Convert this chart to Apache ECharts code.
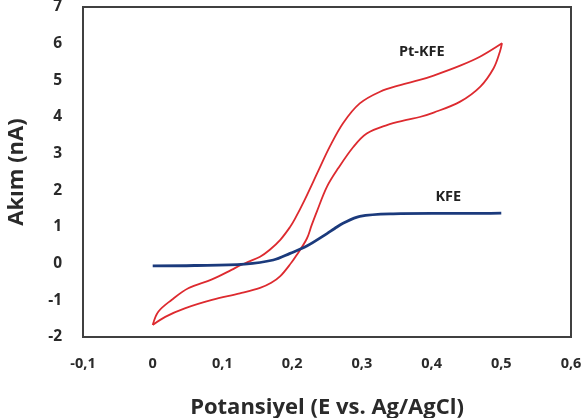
<!DOCTYPE html>
<html>
<head>
<meta charset="utf-8">
<script src="https://cdn.jsdelivr.net/npm/echarts@6/dist/echarts.min.js"></script>
<style>html,body{margin:0;padding:0;background:#fff}#c{width:582px;height:418px}</style>
</head>
<body>
<div id="c"></div>
<script>
// Pt-KFE cyclic voltammogram: upper branch (0 -> 0.5 V) then lower branch (0.5 -> 0 V)
const ptKfePotential = [0.000, 0.008, 0.027, 0.051, 0.085, 0.113, 0.125, 0.137, 0.154, 0.168, 0.183, 0.197, 0.204, 0.218, 0.238, 0.254, 0.273, 0.297, 0.326, 0.355, 0.383, 0.403, 0.441, 0.470, 0.501,
  0.498, 0.489, 0.470, 0.441, 0.403, 0.383, 0.364, 0.336, 0.307, 0.288, 0.266, 0.250, 0.235, 0.228, 0.221, 0.206, 0.199, 0.183, 0.170, 0.154, 0.125, 0.085, 0.046, 0.018, 0.000];
const ptKfeCurrent = [-1.67, -1.31, -0.99, -0.67, -0.43, -0.17, -0.05, 0.05, 0.19, 0.38, 0.65, 1.00, 1.22, 1.74, 2.55, 3.19, 3.83, 4.37, 4.69, 4.87, 5.01, 5.13, 5.40, 5.65, 6.01,
  5.78, 5.33, 4.83, 4.42, 4.12, 4.00, 3.92, 3.78, 3.55, 3.19, 2.60, 2.10, 1.40, 1.05, 0.68, 0.22, 0.03, -0.34, -0.52, -0.66, -0.81, -0.99, -1.22, -1.45, -1.67];
// KFE curve
const kfePotential = [0.000, 0.060, 0.132, 0.173, 0.197, 0.221, 0.250, 0.261, 0.273, 0.297, 0.345, 0.400, 0.450, 0.500];
const kfeCurrent = [-0.06, -0.05, -0.01, 0.10, 0.28, 0.48, 0.82, 0.96, 1.10, 1.29, 1.36, 1.37, 1.37, 1.38];
// Axis ticks
const xTicks = { min: -0.1, max: 0.6, step: 0.1 };
const yTicks = { min: -2, max: 7, step: 1 };
// Curve labels [x, y, text]
const curveLabels = [[0.386, 5.77, 'Pt-KFE'], [0.424, 1.82, 'KFE']];

const zip = (a, b) => a.map((v, i) => [v, b[i]]);
const font = '"Open Sans", "Liberation Sans", sans-serif';
const chart = echarts.init(document.getElementById('c'), null, { renderer: 'canvas' });
const lbl = (l) => ({
  coord: [l[0], l[1]], symbol: 'circle', symbolSize: 0,
  label: { show: true, position: 'inside', formatter: l[2], color: '#222', fontFamily: font, fontWeight: 'bold', fontSize: 14.5 }
});
chart.setOption({
  animation: false,
  backgroundColor: '#fff',
  grid: { left: 83, right: 11, top: 7, bottom: 81, outerBoundsMode: 'none', containLabel: false, show: true, borderColor: '#404040', borderWidth: 2, backgroundColor: 'transparent' },
  xAxis: {
    type: 'value', min: xTicks.min, max: xTicks.max, interval: xTicks.step,
    name: 'Potansiyel (E vs. Ag/AgCl)', nameLocation: 'middle', nameGap: 60,
    nameTextStyle: { fontFamily: font, fontWeight: 'bold', fontSize: 22, color: '#2a2a2a' },
    axisLine: { show: false }, axisTick: { show: false }, splitLine: { show: false },
    axisLabel: {
      margin: 19, fontFamily: font, fontWeight: 'bold', fontSize: 14.5, color: '#2a2a2a',
      formatter: v => { const r = Math.round(v * 10) / 10; return r === 0 ? '0' : r.toFixed(1).replace('.', ','); }
    }
  },
  yAxis: {
    type: 'value', min: yTicks.min, max: yTicks.max, interval: yTicks.step,
    name: 'Akım (nA)', nameLocation: 'middle', nameGap: 55, nameRotate: 90,
    nameTextStyle: { fontFamily: font, fontWeight: 'bold', fontSize: 22, color: '#2a2a2a' },
    axisLine: { show: false }, axisTick: { show: false }, splitLine: { show: false },
    axisLabel: { margin: 21, fontFamily: font, fontWeight: 'bold', fontSize: 15.5, color: '#2a2a2a' }
  },
  series: [
    {
      type: 'line', name: 'Pt-KFE', data: zip(ptKfePotential, ptKfeCurrent),
      showSymbol: false, smooth: 0.35, lineStyle: { color: '#dd2a2f', width: 1.8 },
      markPoint: { data: [lbl(curveLabels[0])] }
    },
    {
      type: 'line', name: 'KFE', data: zip(kfePotential, kfeCurrent),
      showSymbol: false, smooth: 0.35, lineStyle: { color: '#1b3a7c', width: 2.8 },
      markPoint: { data: [lbl(curveLabels[1])] }
    }
  ]
});
</script>
</body>
</html>
